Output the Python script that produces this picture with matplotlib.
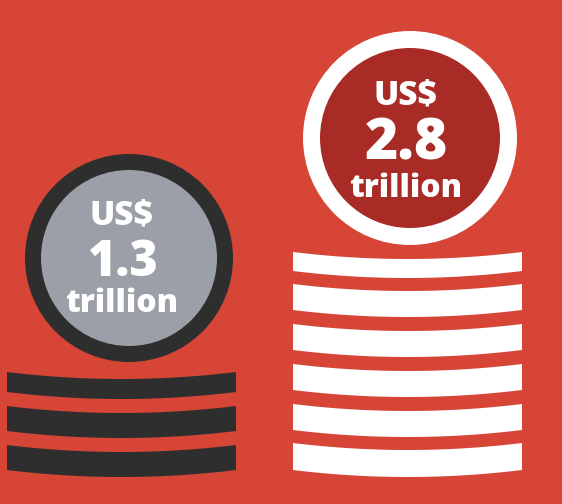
import matplotlib
matplotlib.use("Agg")
import matplotlib.pyplot as plt
import numpy as np
from matplotlib.patches import Circle, Polygon

# ---- data ----
currency = "US$"
unit = "trillion"
values = [1.3, 2.8]
stack_layers = [3, 6]

# ---- styles ----
BG = "#d64536"
ring_colors = ["#2e2e2e", "#ffffff"]
face_colors = ["#9b9fa7", "#a82b26"]
bar_colors = ["#2e2e2e", "#ffffff"]

fig = plt.figure(figsize=(5.62, 5.04), dpi=100)
fig.patch.set_facecolor(BG)
ax = fig.add_axes([0, 0, 1, 1])
ax.set_xlim(0, 562)
ax.set_ylim(504, 0)
ax.axis("off")
ax.set_facecolor(BG)

# layout
coin_cx = [129, 410]
coin_cy = [258, 138]
coin_R = [104, 107]
coin_r = [88, 90]
text_cx = [122, 406]
stack_x = [(7, 236), (293, 522)]
stack_tops = [[372, 406, 445], [252, 284, 324, 364, 404, 443]]
stack_th = [[20, 25, 25], [19, 26, 26, 26, 26, 27]]
sag = 7
num_size = [35, 41]
text_base = [(225, 276, 312), (105, 160, 197)]

def bar(ax, x0, x1, ytop, th, color):
    xs = np.linspace(x0, x1, 80)
    xc = (x0 + x1) / 2
    hw = (x1 - x0) / 2
    s = sag * (1 - ((xs - xc) / hw) ** 2)
    top = ytop + s
    bot = ytop + th + s
    pts = np.concatenate([np.column_stack([xs, top]), np.column_stack([xs[::-1], bot[::-1]])])
    ax.add_patch(Polygon(pts, closed=True, facecolor=color, edgecolor="none"))

font = "Open Sans"
W = 800
for i, v in enumerate(values):
    x0, x1 = stack_x[i]
    for k in range(stack_layers[i]):
        bar(ax, x0, x1, stack_tops[i][k], stack_th[i][k], bar_colors[i])
    ax.add_patch(Circle((coin_cx[i], coin_cy[i]), coin_R[i], facecolor=ring_colors[i], edgecolor="none"))
    ax.add_patch(Circle((coin_cx[i], coin_cy[i]), coin_r[i], facecolor=face_colors[i], edgecolor="none"))
    ty = text_base[i]
    ax.text(text_cx[i], ty[0], currency, ha="center", va="baseline", color="white",
            fontsize=24, fontweight=W, family=font)
    ax.text(text_cx[i], ty[1], f"{v:.1f}", ha="center", va="baseline", color="white",
            fontsize=num_size[i], fontweight=W, family=font)
    ax.text(text_cx[i], ty[2], unit, ha="center", va="baseline", color="white",
            fontsize=23, fontweight=W, family=font)

fig.savefig("out.png", dpi=100, facecolor=BG)
